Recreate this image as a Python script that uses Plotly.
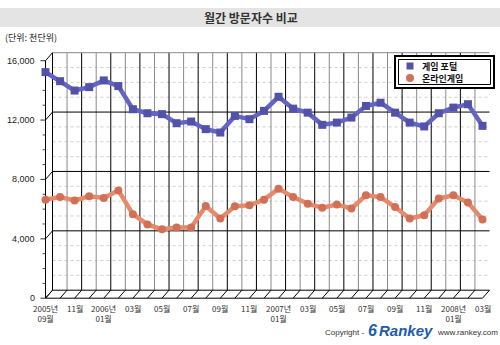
import plotly.graph_objects as go

# ---------------- data ----------------
months = ["2005-09", "2005-10", "2005-11", "2005-12", "2006-01", "2006-02", "2006-03", "2006-04",
          "2006-05", "2006-06", "2006-07", "2006-08", "2006-09", "2006-10", "2006-11", "2006-12",
          "2007-01", "2007-02", "2007-03", "2007-04", "2007-05", "2007-06", "2007-07", "2007-08",
          "2007-09", "2007-10", "2007-11", "2007-12", "2008-01", "2008-02", "2008-03"]
game_portal = [15230, 14620, 13990, 14220, 14670, 14290, 12730, 12460, 12400, 11790, 11900,
               11390, 11160, 12280, 12060, 12620, 13570, 12770, 12500, 11680, 11830, 12170,
               12950, 13170, 12500, 11830, 11570, 12460, 12840, 13070, 11610]
online_game = [6640, 6810, 6590, 6860, 6750, 7260, 5660, 4970, 4640, 4770, 4770, 6210, 5370,
               6190, 6260, 6640, 7380, 6810, 6370, 6100, 6310, 6040, 6930, 6810, 6140, 5370,
               5590, 6710, 6930, 6440, 5300]
x_tick_idx = list(range(0, 31, 2))
x_tick_labels = ["2005년<br>09월", "11월", "2006년<br>01월", "03월", "05월", "07월", "09월", "11월",
                 "2007년<br>01월", "03월", "05월", "07월", "09월", "11월", "2008년<br>01월", "03월"]
y_ticks = [0, 4000, 8000, 12000, 16000]
y_tick_labels = ["0", "4,000", "8,000", "12,000", "16,000"]
series_names = ["게임 포털", "온라인게임"]

# ---------------- geometry (pixel mapping) ----------------
W, H = 500, 345
X0PX, X30PX = 45.5, 482.5          # pixel x of first / last month
S = (X30PX - X0PX) / 30.0           # px per month
Y0PX = 298.2                        # pixel y of value 0
K = (298.2 - 60.7) / 16000.0        # px per unit
xr = [(0 - X0PX) / S, (W - X0PX) / S]
yr = [(Y0PX - H) / K, (Y0PX - 0) / K]
DX = 7.0 / S                        # back-wall depth offset (data units)
DY = 8.0 / K

def px(p):
    return p / W

def py(p):
    return 1 - p / H

xs = list(range(len(months)))

fig = go.Figure()
fig.add_trace(go.Scatter(
    x=xs, y=game_portal, mode="lines+markers", name=series_names[0], customdata=months,
    line=dict(color="#6464C4", width=4.5),
    marker=dict(symbol="square", size=8, color="#5252A8"),
    cliponaxis=False, showlegend=False,
    hovertemplate="%{customdata}: %{y:,}<extra></extra>"))
fig.add_trace(go.Scatter(
    x=xs, y=online_game, mode="lines+markers", name=series_names[1], customdata=months,
    line=dict(color="#E58A6C", width=4.5),
    marker=dict(symbol="circle", size=8, color="#D27055"),
    cliponaxis=False, showlegend=False,
    hovertemplate="%{customdata}: %{y:,}<extra></extra>"))

shapes = []

def seg(x0, y0, x1, y1, color="black", width=1, dash="solid", layer="below"):
    shapes.append(dict(type="line", xref="x", yref="y", x0=x0, y0=y0, x1=x1, y1=y1,
                       line=dict(color=color, width=width, dash=dash), layer=layer))

# title bar
shapes.append(dict(type="rect", xref="paper", yref="paper", x0=0, x1=1, y0=py(27), y1=py(8),
                   fillcolor="#E4E4E4", line=dict(width=0), layer="below"))

ymax = y_ticks[-1]
# minor dotted grid on back wall
for v in range(1000, ymax, 1000):
    if v not in y_ticks:
        seg(DX, v + DY, 30 + DX, v + DY, color="#D0D0D0", dash="dot")
        seg(-0.2, v, 0, v, color="#444")
# vertical back-wall lines
for i in range(0, 30):
    seg(i + DX, DY, i + DX, ymax + DY, color="#000000" if i % 2 == 0 else "#8A8A8A")
# major horizontal lines
for v in y_ticks:
    col = "#888888" if v == ymax else "black"
    seg(DX, v + DY, 30 + DX, v + DY, color=col)
    seg(-0.35, v, 0, v, color="#333")
    seg(0, v, DX, v + DY, color="black")
# floor
seg(0, 0, 30, 0, color="black")
for i in range(0, 31):
    seg(i, 0, i + DX, DY, color="black")
# left wall front edge
seg(0, 0, 0, ymax, color="black")

# legend box
shapes.append(dict(type="rect", xref="paper", yref="paper", x0=px(395), x1=px(494),
                   y0=py(88), y1=py(56), fillcolor="white", line=dict(color="black", width=2),
                   layer="above"))
shapes.append(dict(type="rect", xref="paper", yref="paper", x0=px(398.5), x1=px(490.5),
                   y0=py(84.5), y1=py(59.5), fillcolor="white", line=dict(color="black", width=1),
                   layer="above"))
shapes.append(dict(type="rect", xref="paper", yref="paper", x0=px(406.5), x1=px(413.5),
                   y0=py(69.5), y1=py(62.5), fillcolor="#5252A8", line=dict(width=0), layer="above"))
shapes.append(dict(type="circle", xref="paper", yref="paper", x0=px(406), x1=px(414),
                   y0=py(82), y1=py(74), fillcolor="#D27055", line=dict(width=0), layer="above"))

annotations = []
KR = "Noto Sans CJK KR"
annotations.append(dict(text="<b>월간 방문자수 비교</b>", xref="paper", yref="paper", x=px(251), y=py(17.5),
                        showarrow=False, xanchor="center", yanchor="middle",
                        font=dict(family=KR, size=12, color="#333")))
annotations.append(dict(text="(단위: 천단위)", xref="paper", yref="paper", x=px(3), y=py(38),
                        showarrow=False, xanchor="left", yanchor="middle",
                        font=dict(family=KR, size=9, color="#222")))
for v, lab in zip(y_ticks, y_tick_labels):
    annotations.append(dict(text=lab, xref="x", yref="y", x=-0.55, y=v, showarrow=False,
                            xanchor="right", yanchor="middle",
                            font=dict(family="Liberation Sans", size=9, color="#222")))
for i, lab in zip(x_tick_idx, x_tick_labels):
    annotations.append(dict(text=lab, xref="x", yref="paper", x=i, y=py(301), showarrow=False,
                            xanchor="center", yanchor="top",
                            font=dict(family=KR, size=8, color="#333")))
for name, yy in zip(series_names, [66, 78]):
    annotations.append(dict(text="<b>" + name + "</b>", xref="paper", yref="paper", x=px(420),
                            y=py(yy), showarrow=False, xanchor="left", yanchor="middle",
                            font=dict(family=KR, size=9, color="#111")))
# footer
annotations.append(dict(text="Copyright -", xref="paper", yref="paper", x=px(323), y=py(332),
                        showarrow=False, xanchor="left", yanchor="middle",
                        font=dict(family="Liberation Sans", size=8, color="#333")))
annotations.append(dict(text="<b><i>6</i></b>", xref="paper", yref="paper", x=px(372), y=py(330),
                        showarrow=False, xanchor="center", yanchor="middle",
                        font=dict(family="Liberation Sans", size=16, color="#1E5CAA")))
annotations.append(dict(text="<b><i>Rankey</i></b>", xref="paper", yref="paper", x=px(377),
                        y=py(330), showarrow=False, xanchor="left", yanchor="middle",
                        font=dict(family="Liberation Sans", size=15, color="#1E5CAA")))
annotations.append(dict(text="www.rankey.com", xref="paper", yref="paper", x=px(435), y=py(332),
                        showarrow=False, xanchor="left", yanchor="middle",
                        font=dict(family="Liberation Sans", size=8, color="#333")))

fig.update_layout(
    width=W, height=H, margin=dict(l=0, r=0, t=0, b=0, pad=0),
    paper_bgcolor="white", plot_bgcolor="white",
    xaxis=dict(range=xr, visible=False, domain=[0, 1], fixedrange=True),
    yaxis=dict(range=yr, visible=False, domain=[0, 1], fixedrange=True),
    shapes=shapes, annotations=annotations, showlegend=False,
)
fig.write_html("out.html")
